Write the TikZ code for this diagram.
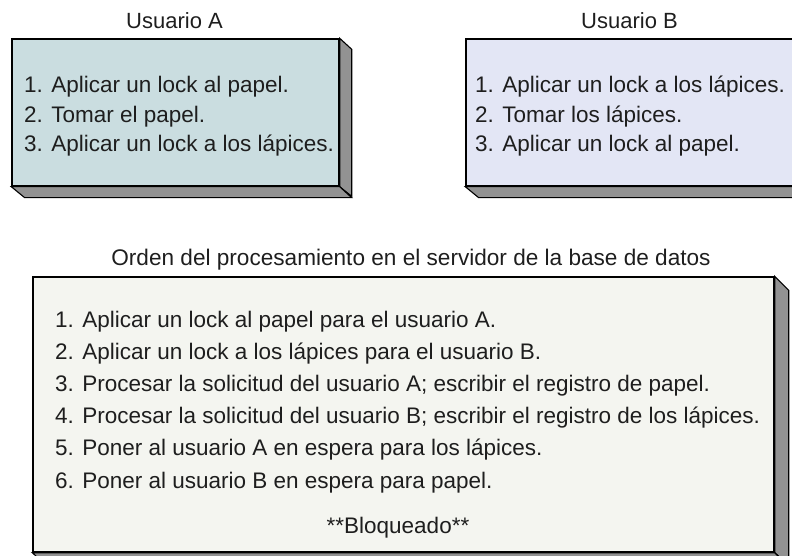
\documentclass[tikz,border=0pt]{standalone}
\usepackage{fontspec}
\setmainfont{Liberation Sans}
\begin{document}
\begin{tikzpicture}[x=1pt,y=-1pt,
  face/.style={draw=black,line width=1.4pt,line join=miter},
  side/.style={draw=black,line width=1.1pt,fill=sidegray,line join=miter},
  lbl/.style={anchor=base,inner sep=0pt,font=\fontsize{22}{26}\selectfont,text=txtcol},
  itm/.style={anchor=base west,inner sep=0pt,font=\fontsize{22.5}{29}\selectfont,text=txtcol}]
\definecolor{sidegray}{HTML}{929292}
\definecolor{fillA}{HTML}{CADDE0}
\definecolor{fillB}{HTML}{E3E6F5}
\definecolor{fillC}{HTML}{F4F5F0}
\definecolor{txtcol}{HTML}{1E1E1E}
\useasboundingbox (0,0) rectangle (792,556);
\begin{scope}
\clip (0,0) rectangle (792,556);
% Box A
\node[face,fill=fillA,minimum width=327pt,minimum height=147pt,inner sep=0pt] (boxA) at (175.5,112.5) {};
\draw[side] (boxA.north east) -- ++(12,11) -- ++(0,147) -- (boxA.south east) -- cycle;
\draw[side] (boxA.south west) -- (boxA.south east) -- ++(12,11) -- ++(-327,0) -- cycle;
% Box B
\node[face,fill=fillB,minimum width=329pt,minimum height=147pt,inner sep=0pt] (boxB) at (630.5,112.5) {};
\draw[side] (boxB.north east) -- ++(12,11) -- ++(0,147) -- (boxB.south east) -- cycle;
\draw[side] (boxB.south west) -- (boxB.south east) -- ++(12,11) -- ++(-329,0) -- cycle;
% Box C
\node[face,fill=fillC,minimum width=741pt,minimum height=275pt,inner sep=0pt] (boxC) at (403.5,414.5) {};
\draw[side] (boxC.north east) -- ++(14,14) -- ++(0,275) -- (boxC.south east) -- cycle;
\draw[side] (boxC.south west) -- (boxC.south east) -- ++(14,14) -- ++(-741,0) -- cycle;
\end{scope}
% labels
\node[lbl] (labA) at (174.5,29) {Usuario A};
\node[lbl] (labB) at (629.5,29) {Usuario B};
\node[lbl,font=\fontsize{22.6}{26}\selectfont] (labC) at (411,265) {Orden del procesamiento en el servidor de la base de datos};
% items A
\node[itm] (a1) at (24,93) {1. Aplicar un lock al papel.};
\node[itm] (a2) at (24,122.5) {2. Tomar el papel.};
\node[itm] (a3) at (24,152) {3. Aplicar un lock a los lápices.};
% items B
\node[itm] (b1) at (475,93) {1. Aplicar un lock a los lápices.};
\node[itm] (b2) at (475,122.5) {2. Tomar los lápices.};
\node[itm] (b3) at (475,152) {3. Aplicar un lock al papel.};
% items C
\node[itm] (c1) at (55,327) {1. Aplicar un lock al papel para el usuario A.};
\node[itm] (c2) at (55,359) {2. Aplicar un lock a los lápices para el usuario B.};
\node[itm] (c3) at (55,391) {3. Procesar la solicitud del usuario A; escribir el registro de papel.};
\node[itm] (c4) at (55,423) {4. Procesar la solicitud del usuario B; escribir el registro de los lápices.};
\node[itm] (c5) at (55,455) {5. Poner al usuario A en espera para los lápices.};
\node[itm] (c6) at (55,488) {6. Poner al usuario B en espera para papel.};
\node[itm,anchor=base] (c7) at (398,533) {**Bloqueado**};
\end{tikzpicture}
\end{document}
